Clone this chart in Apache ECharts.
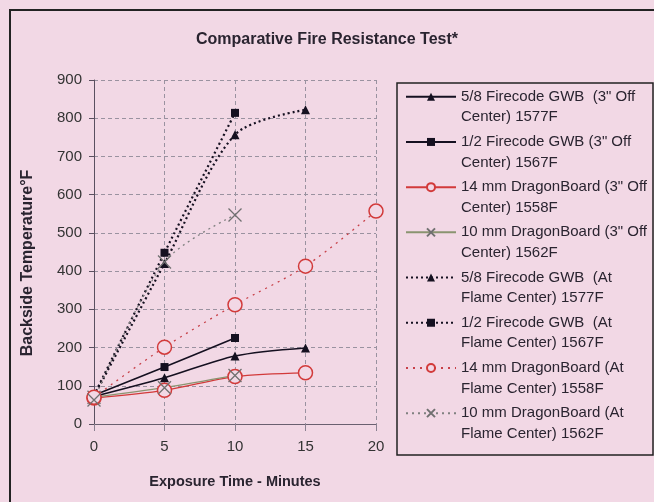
<!DOCTYPE html>
<html>
<head>
<meta charset="utf-8">
<script src="https://cdn.jsdelivr.net/npm/echarts@6/dist/echarts.min.js"></script>
<style>
  html, body { margin: 0; padding: 0; background: #f2d8e5; }
  #chart { width: 654px; height: 502px; }
</style>
</head>
<body>
<div id="chart"></div>
<script>
// minutes of exposure
var minutes = [0, 5, 10, 15, 20];
var yTicks = [0, 100, 200, 300, 400, 500, 600, 700, 800, 900];

// backside temperature (deg F)
var gwb58Off   = [72, 121, 178, 199];
var gwb12Off   = [75, 149, 225];
var dragon14Off = [68, 88, 124, 134];
var dragon10Off = [70, 95, 127];
var gwb58Flame  = [72, 420, 757, 822];
var gwb12Flame  = [75, 448, 814];
var dragon14Flame = [70, 201, 312, 413, 557];
var dragon10Flame = [63, 424, 547];

var seriesNames = [
  '5/8 Firecode GWB  (3" Off\nCenter) 1577F',
  '1/2 Firecode GWB (3" Off\nCenter) 1567F',
  '14 mm DragonBoard (3" Off\nCenter) 1558F',
  '10 mm DragonBoard (3" Off\nCenter) 1562F',
  '5/8 Firecode GWB  (At\nFlame Center) 1577F',
  '1/2 Firecode GWB  (At\nFlame Center) 1567F',
  '14 mm DragonBoard (At\nFlame Center) 1558F',
  '10 mm DragonBoard (At\nFlame Center) 1562F'
];

var bg = '#f2d8e5';
var xMark = 'path://M0,0L10,10M10,0L0,10';

function pts(vals) {
  return vals.map(function(v, i) { return [minutes[i], v]; });
}

function mkLine(name, vals, o) {
  return {
    name: name, type: 'line', data: pts(vals), smooth: 0.3,
    symbol: o.symbol, symbolSize: o.size,
    lineStyle: { color: o.line, width: o.width, type: o.dash ? o.dash : 'solid' },
    itemStyle: o.item,
    emphasis: { disabled: true }
  };
}

var chart = echarts.init(document.getElementById('chart'));
chart.setOption({
  backgroundColor: bg,
  animation: false,
  textStyle: { fontFamily: '"Liberation Sans", Arial, sans-serif' },
  title: {
    text: 'Comparative Fire Resistance Test*',
    left: 'center', top: 27,
    textStyle: { fontSize: 16, fontWeight: 'bold', color: '#2a2430' }
  },
  grid: { left: 94, right: 278, top: 80, bottom: 78 },
  xAxis: {
    type: 'value', min: 0, max: 20, interval: 5,
    name: 'Exposure Time - Minutes', nameLocation: 'middle', nameGap: 50,
    nameTextStyle: { fontSize: 14.5, fontWeight: 'bold', color: '#2a2430' },
    axisLine: { show: true, lineStyle: { color: '#6a6070', width: 1 } },
    axisTick: { show: true, length: 7, lineStyle: { color: '#8a8090' } },
    axisLabel: { fontSize: 15, color: '#333', margin: 15 },
    splitLine: { show: true, lineStyle: { color: '#9a92a0', type: [4, 3], width: 1 } }
  },
  yAxis: {
    type: 'value', min: 0, max: 900, interval: 100,
    name: 'Backside Temperature°F', nameLocation: 'middle', nameGap: 58,
    nameTextStyle: { fontSize: 16, fontWeight: 'bold', color: '#2a2430', padding: [0, 22, 0, 0] },
    axisLine: { show: true, lineStyle: { color: '#5a5060', width: 1 } },
    axisTick: { show: true, length: 5, lineStyle: { color: '#5a5060' } },
    axisLabel: {
      fontSize: 15, color: '#333', margin: 12,
      formatter: function(v) { return yTicks.indexOf(v) >= 0 ? String(v) : ''; }
    },
    splitLine: { show: true, lineStyle: { color: '#9a92a0', type: [4, 3], width: 1 } }
  },
  legend: {
    orient: 'vertical', left: 405, top: 66, padding: 0,
    itemWidth: 50, itemHeight: 10, itemGap: -16.3,
    formatter: function(n) { return '\n' + n; },
    textStyle: { fontSize: 15, color: '#2a2430', lineHeight: 20.5 },
    data: seriesNames
  },
  graphic: [
    { type: 'rect', shape: { x: 10, y: 10, width: 700, height: 560 },
      style: { fill: 'none', stroke: '#222', lineWidth: 2 }, silent: true },
    { type: 'rect', shape: { x: 397, y: 83, width: 256, height: 372 },
      style: { fill: 'none', stroke: '#222', lineWidth: 1.5 }, silent: true }
  ],
  series: [
    mkLine(seriesNames[0], gwb58Off, { symbol: 'triangle', size: 9, line: '#151020', width: 1.6,
      item: { color: '#151020' } }),
    mkLine(seriesNames[1], gwb12Off, { symbol: 'rect', size: 8, line: '#151020', width: 1.6,
      item: { color: '#151020' } }),
    mkLine(seriesNames[2], dragon14Off, { symbol: 'circle', size: 14, line: '#d23a3a', width: 1.3,
      item: { color: bg, borderColor: '#d23a3a', borderWidth: 1.5 } }),
    mkLine(seriesNames[3], dragon10Off, { symbol: xMark, size: 13, line: '#8a9470', width: 1.3,
      item: { color: '#707070', borderColor: '#707070', borderWidth: 1.3 } }),
    mkLine(seriesNames[4], gwb58Flame, { symbol: 'triangle', size: 9, line: '#151020', width: 2.2, dash: [2, 3],
      item: { color: '#151020' } }),
    mkLine(seriesNames[5], gwb12Flame, { symbol: 'rect', size: 8, line: '#151020', width: 2.2, dash: [2, 3],
      item: { color: '#151020' } }),
    mkLine(seriesNames[6], dragon14Flame, { symbol: 'circle', size: 14, line: '#c84048', width: 1.3, dash: [2, 5],
      item: { color: bg, borderColor: '#d23a3a', borderWidth: 1.5 } }),
    mkLine(seriesNames[7], dragon10Flame, { symbol: xMark, size: 13, line: '#808080', width: 1.3, dash: [2, 4],
      item: { color: '#707070', borderColor: '#707070', borderWidth: 1.3 } })
  ]
});
</script>
</body>
</html>
